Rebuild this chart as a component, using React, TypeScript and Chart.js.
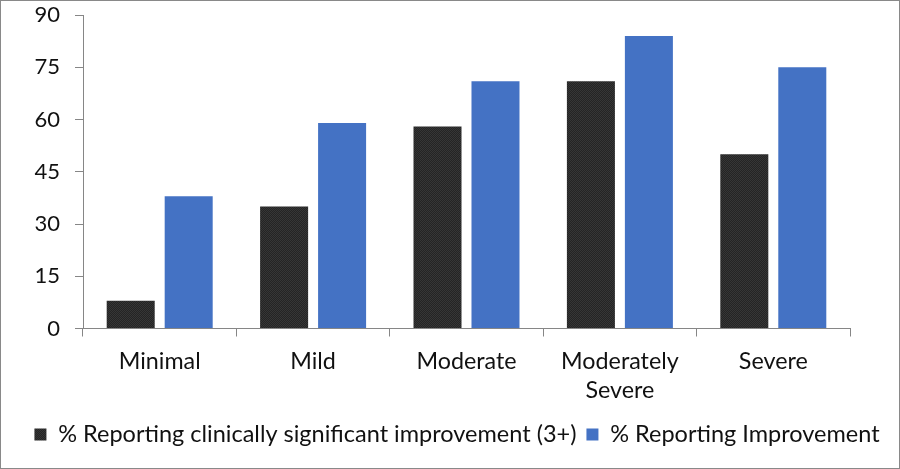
import React, { useEffect, useRef } from 'react';
import { Chart, registerables } from 'chart.js';

Chart.register(...registerables);

const categories: (string | string[])[] = ['Minimal', 'Mild', 'Moderate', ['Moderately', 'Severe'], 'Severe'];
const clinicalValues = [8, 35, 58, 71, 50];
const improvementValues = [38, 59, 71, 84, 75];
const seriesNames = ['% Reporting clinically significant improvement (3+)', '% Reporting Improvement'];
const yMin = 0;
const yMax = 90;
const yStep = 15;

const FONT = 'Lato';
const AXIS_COLOR = '#868686';

function makePattern(): CanvasPattern | string {
  const c = document.createElement('canvas');
  c.width = 2;
  c.height = 2;
  const g = c.getContext('2d');
  if (!g) return '#2b2b2b';
  g.fillStyle = '#242424';
  g.fillRect(0, 0, 2, 2);
  g.fillStyle = '#363636';
  g.fillRect(0, 0, 1, 1);
  g.fillRect(1, 1, 1, 1);
  const p = g.createPattern(c, 'repeat');
  return p || '#2b2b2b';
}

export default function App() {
  const ref = useRef<HTMLCanvasElement | null>(null);

  useEffect(() => {
    if (!ref.current) return;
    const pattern = makePattern();
    const chart = new Chart(ref.current, {
      type: 'bar',
      data: {
        labels: categories,
        datasets: [
          {
            label: seriesNames[0],
            data: clinicalValues,
            backgroundColor: pattern as any,
            borderWidth: 0,
            categoryPercentage: 0.756,
            barPercentage: 0.828,
          },
          {
            label: seriesNames[1],
            data: improvementValues,
            backgroundColor: '#4472C4',
            borderWidth: 0,
            categoryPercentage: 0.756,
            barPercentage: 0.828,
          },
        ],
      },
      options: {
        animation: false,
        responsive: false,
        maintainAspectRatio: false,
        devicePixelRatio: 1,
        layout: { padding: { left: 14, right: 0, top: 14, bottom: 11.75 } },
        plugins: {
          tooltip: { enabled: false },
          legend: {
            position: 'bottom',
            labels: {
              boxWidth: 12,
              boxHeight: 12,
              padding: 10,
              color: '#111',
              font: { family: FONT, size: 23.5 },
            },
          },
        },
        scales: {
          x: {
            grid: { drawOnChartArea: false, drawTicks: true, tickLength: 8, color: AXIS_COLOR, offset: true },
            border: { display: true, color: AXIS_COLOR, width: 1 },
            ticks: {
              color: '#111',
              padding: 10,
              maxRotation: 0,
              autoSkip: false,
              font: { family: FONT, size: 23.3, lineHeight: 1.245 },
            },
            afterFit: (s: any) => {
              s.height = 84.25;
              s.paddingLeft = 0;
              s.paddingRight = 0;
            },
          },
          y: {
            min: yMin,
            max: yMax,
            grid: { drawOnChartArea: false, drawTicks: true, tickLength: 8, color: AXIS_COLOR },
            border: { display: true, color: AXIS_COLOR, width: 1 },
            ticks: {
              stepSize: yStep,
              color: '#111',
              padding: 15,
              font: { family: FONT, size: 22 },
            },
            afterFit: (s: any) => {
              s.width = 68;
              s.paddingTop = 0;
              s.paddingBottom = 0;
            },
          },
          yRightSpace: {
            type: 'linear',
            position: 'right',
            display: true,
            grid: { display: false },
            border: { display: false },
            ticks: { display: false },
            afterFit: (s: any) => {
              s.width = 49;
              s.paddingTop = 0;
              s.paddingBottom = 0;
            },
          },
        },
      },
    });
    return () => chart.destroy();
  }, []);

  return (
    <div
      style={{
        position: 'fixed',
        left: 0,
        top: 0,
        width: 900,
        height: 469,
        boxSizing: 'border-box',
        border: '1px solid #898989',
        background: '#fff',
      }}
    >
      <canvas ref={ref} width={898} height={467} style={{ display: 'block', width: 898, height: 467 }} />
    </div>
  );
}
